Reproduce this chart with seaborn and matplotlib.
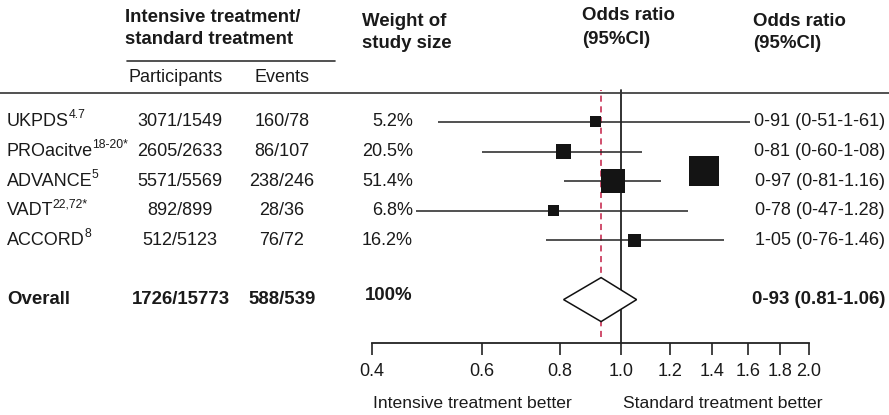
import numpy as np
import pandas as pd
import matplotlib
matplotlib.use("Agg")
import matplotlib.pyplot as plt
import seaborn as sns
from matplotlib.lines import Line2D
from matplotlib.patches import Polygon
from matplotlib.transforms import blended_transform_factory
from matplotlib.ticker import FixedLocator, FixedFormatter, NullLocator

# ---------------- data ----------------
studies = ["UKPDS", "PROacitve", "ADVANCE", "VADT", "ACCORD"]
study_refs = ["4.7", "18-20*", "5", "22,72*", "8"]
participants = ["3071/1549", "2605/2633", "5571/5569", "892/899", "512/5123"]
events = ["160/78", "86/107", "238/246", "28/36", "76/72"]
weights = ["5.2%", "20.5%", "51.4%", "6.8%", "16.2%"]
odds_ratio = [0.91, 0.81, 0.97, 0.78, 1.05]
ci_low = [0.51, 0.60, 0.81, 0.47, 0.76]
ci_high = [1.61, 1.08, 1.16, 1.28, 1.46]
or_labels = ["0-91 (0-51-1-61)", "0-81 (0-60-1-08)", "0-97 (0-81-1.16)",
             "0-78 (0-47-1.28)", "1-05 (0-76-1.46)"]

overall_label = "Overall"
overall_participants = "1726/15773"
overall_events = "588/539"
overall_weight = "100%"
overall_or = 0.93
overall_low = 0.81
overall_high = 1.06
overall_or_label = "0-93 (0.81-1.06)"

# stray square drawn next to ADVANCE in the original
extra_square_or = [1.36]
extra_square_row = [1.66]

tick_values = [0.4, 0.6, 0.8, 1.0, 1.2, 1.4, 1.6, 1.8, 2.0]
tick_labels = ["0.4", "0.6", "0.8", "1.0", "1.2", "1.4", "1.6", "1.8", "2.0"]

# ---------------- styling ----------------
sns.set_theme(style="white")
plt.rcParams["font.family"] = ["Liberation Sans", "DejaVu Sans"]

FS = 13.0
FSB = 13.4
W, H = 889, 415
fig = plt.figure(figsize=(W / 100, H / 100), dpi=100)

# axes: x from 0.4 (372px) to 2.0 (809px); y from 93px (top) to 343px (bottom)
ax = fig.add_axes([372 / W, 1 - 343 / H, (809 - 372) / W, (343 - 93) / H])
row_px = 29.6
ax.patch.set_alpha(0)

rows = list(range(len(studies)))
overall_row = 6

df = pd.DataFrame({"study": studies, "or": odds_ratio, "lo": ci_low,
                   "hi": ci_high, "row": rows})

# CI lines
ax.hlines(df["row"], df["lo"], df["hi"], color="#222222", lw=1.1, zorder=2)

# squares (pixel sizes)
sq_px = [11, 15, 24, 11, 13]
for r, px in zip(rows, sq_px):
    sub = df[df["row"] == r]
    sns.scatterplot(data=sub, x="or", y="row", marker="s", s=(px * 0.72) ** 2,
                    color="#141414", edgecolor="none", linewidth=0, ax=ax,
                    legend=False, zorder=3)
extra = pd.DataFrame({"or": extra_square_or, "row": extra_square_row})
sns.scatterplot(data=extra, x="or", y="row", marker="s", s=(30 * 0.72) ** 2,
                color="#141414", edgecolor="none", linewidth=0, ax=ax,
                legend=False, zorder=3)

ax.set_xlabel("")
ax.set_ylabel("")
ax.set_xscale("log")
ax.set_xlim(0.4, 2.0)
ax.set_ylim((343 - 122) / row_px, (93 - 122) / row_px)
for s in ["top", "left", "right"]:
    ax.spines[s].set_visible(False)
ax.spines["bottom"].set_color("#222222")
ax.spines["bottom"].set_linewidth(1.3)
ax.xaxis.set_major_locator(FixedLocator(tick_values))
ax.xaxis.set_major_formatter(FixedFormatter(tick_labels))
ax.xaxis.set_minor_locator(NullLocator())
ax.tick_params(axis="x", which="major", bottom=True, length=8.6, width=1.2,
               color="#222222", labelsize=FS, pad=6, labelcolor="#1a1a1a")
ax.set_yticks([])
ax.grid(False)

# reference lines
ax.axvline(1.0, ymin=0, ymax=1.012, color="#222222", lw=1.3, zorder=1, clip_on=False)
ax.axvline(overall_or, ymin=(343 - 337) / 250, ymax=1.012, color="#c41e45",
           lw=1.1, ls=(0, (4, 3)), zorder=1, clip_on=False)

# diamond
h = 22 / row_px
diamond = Polygon([(overall_low, overall_row), (overall_or, overall_row - h),
                   (overall_high, overall_row), (overall_or, overall_row + h)],
                  closed=True, facecolor="white", edgecolor="#111111", lw=1.1,
                  zorder=4)
ax.add_patch(diamond)

# ---------------- texts ----------------
tr = blended_transform_factory(fig.transFigure, ax.transData)
def fx(px):
    return px / W
def fy(px):
    return 1 - px / H

col = "#1a1a1a"
for r, name, ref in zip(rows, studies, study_refs):
    t = ax.text(fx(7), r, name, transform=tr, ha="left", va="center",
                fontsize=FS, color=col, clip_on=False)
    ax.annotate(ref, xy=(1, 1.0), xycoords=t, xytext=(-0.5, 3),
                textcoords="offset points", ha="left", va="top",
                fontsize=FS * 0.68, color=col, annotation_clip=False)
for r, p, e, w, ol in zip(rows, participants, events, weights, or_labels):
    ax.text(fx(180), r, p, transform=tr, ha="center", va="center",
            fontsize=FS, color=col, clip_on=False)
    ax.text(fx(282), r, e, transform=tr, ha="center", va="center",
            fontsize=FS, color=col, clip_on=False)
    ax.text(fx(413), r, w, transform=tr, ha="right", va="center",
            fontsize=FS, color=col, clip_on=False)
    ax.text(fx(885), r, ol, transform=tr, ha="right", va="center",
            fontsize=FS, color=col, clip_on=False, zorder=5,
            bbox=dict(facecolor="white", edgecolor="none", pad=0.3))

bold = dict(fontsize=FSB, color=col, fontweight="bold", clip_on=False)
ax.text(fx(7), overall_row, overall_label, transform=tr, ha="left", va="center", **bold)
ax.text(fx(181), overall_row, overall_participants, transform=tr, ha="center", va="center", **bold)
ax.text(fx(282), overall_row, overall_events, transform=tr, ha="center", va="center", **bold)
ax.text(fx(413), overall_row - 0.15, overall_weight, transform=tr, ha="right", va="center", **bold)
ax.text(fx(885), overall_row, overall_or_label, transform=tr, ha="right", va="center", **bold)

# headers
hb = dict(fontsize=FSB, color=col, fontweight="bold", va="center", ha="left")
fig.text(fx(125), fy(17), "Intensive treatment/", **hb)
fig.text(fx(125), fy(40), "standard treatment", **hb)
fig.text(fx(362), fy(21), "Weight of", **hb)
fig.text(fx(362), fy(43), "study size", **hb)
fig.text(fx(582), fy(16), "Odds ratio", **hb)
fig.text(fx(582), fy(40), "(95%CI)", **hb)
fig.text(fx(753), fy(21), "Odds ratio", **hb)
fig.text(fx(753), fy(43), "(95%CI)", **hb)
fig.text(fx(128), fy(77), "Participants", fontsize=FS, color=col, va="center", ha="left")
fig.text(fx(255), fy(77), "Events", fontsize=FS, color=col, va="center", ha="left")

fig.text(fx(373), fy(403), "Intensive treatment better", fontsize=12.6, color=col,
         va="center", ha="left")
fig.text(fx(623), fy(403), "Standard treatment better", fontsize=12.6, color=col,
         va="center", ha="left")

# header rules
fig.add_artist(Line2D([fx(127), fx(335)], [fy(61), fy(61)], color="#333333", lw=1.2))
fig.add_artist(Line2D([0, 1], [fy(93), fy(93)], color="#333333", lw=1.2))

fig.savefig("out.png", dpi=100)
